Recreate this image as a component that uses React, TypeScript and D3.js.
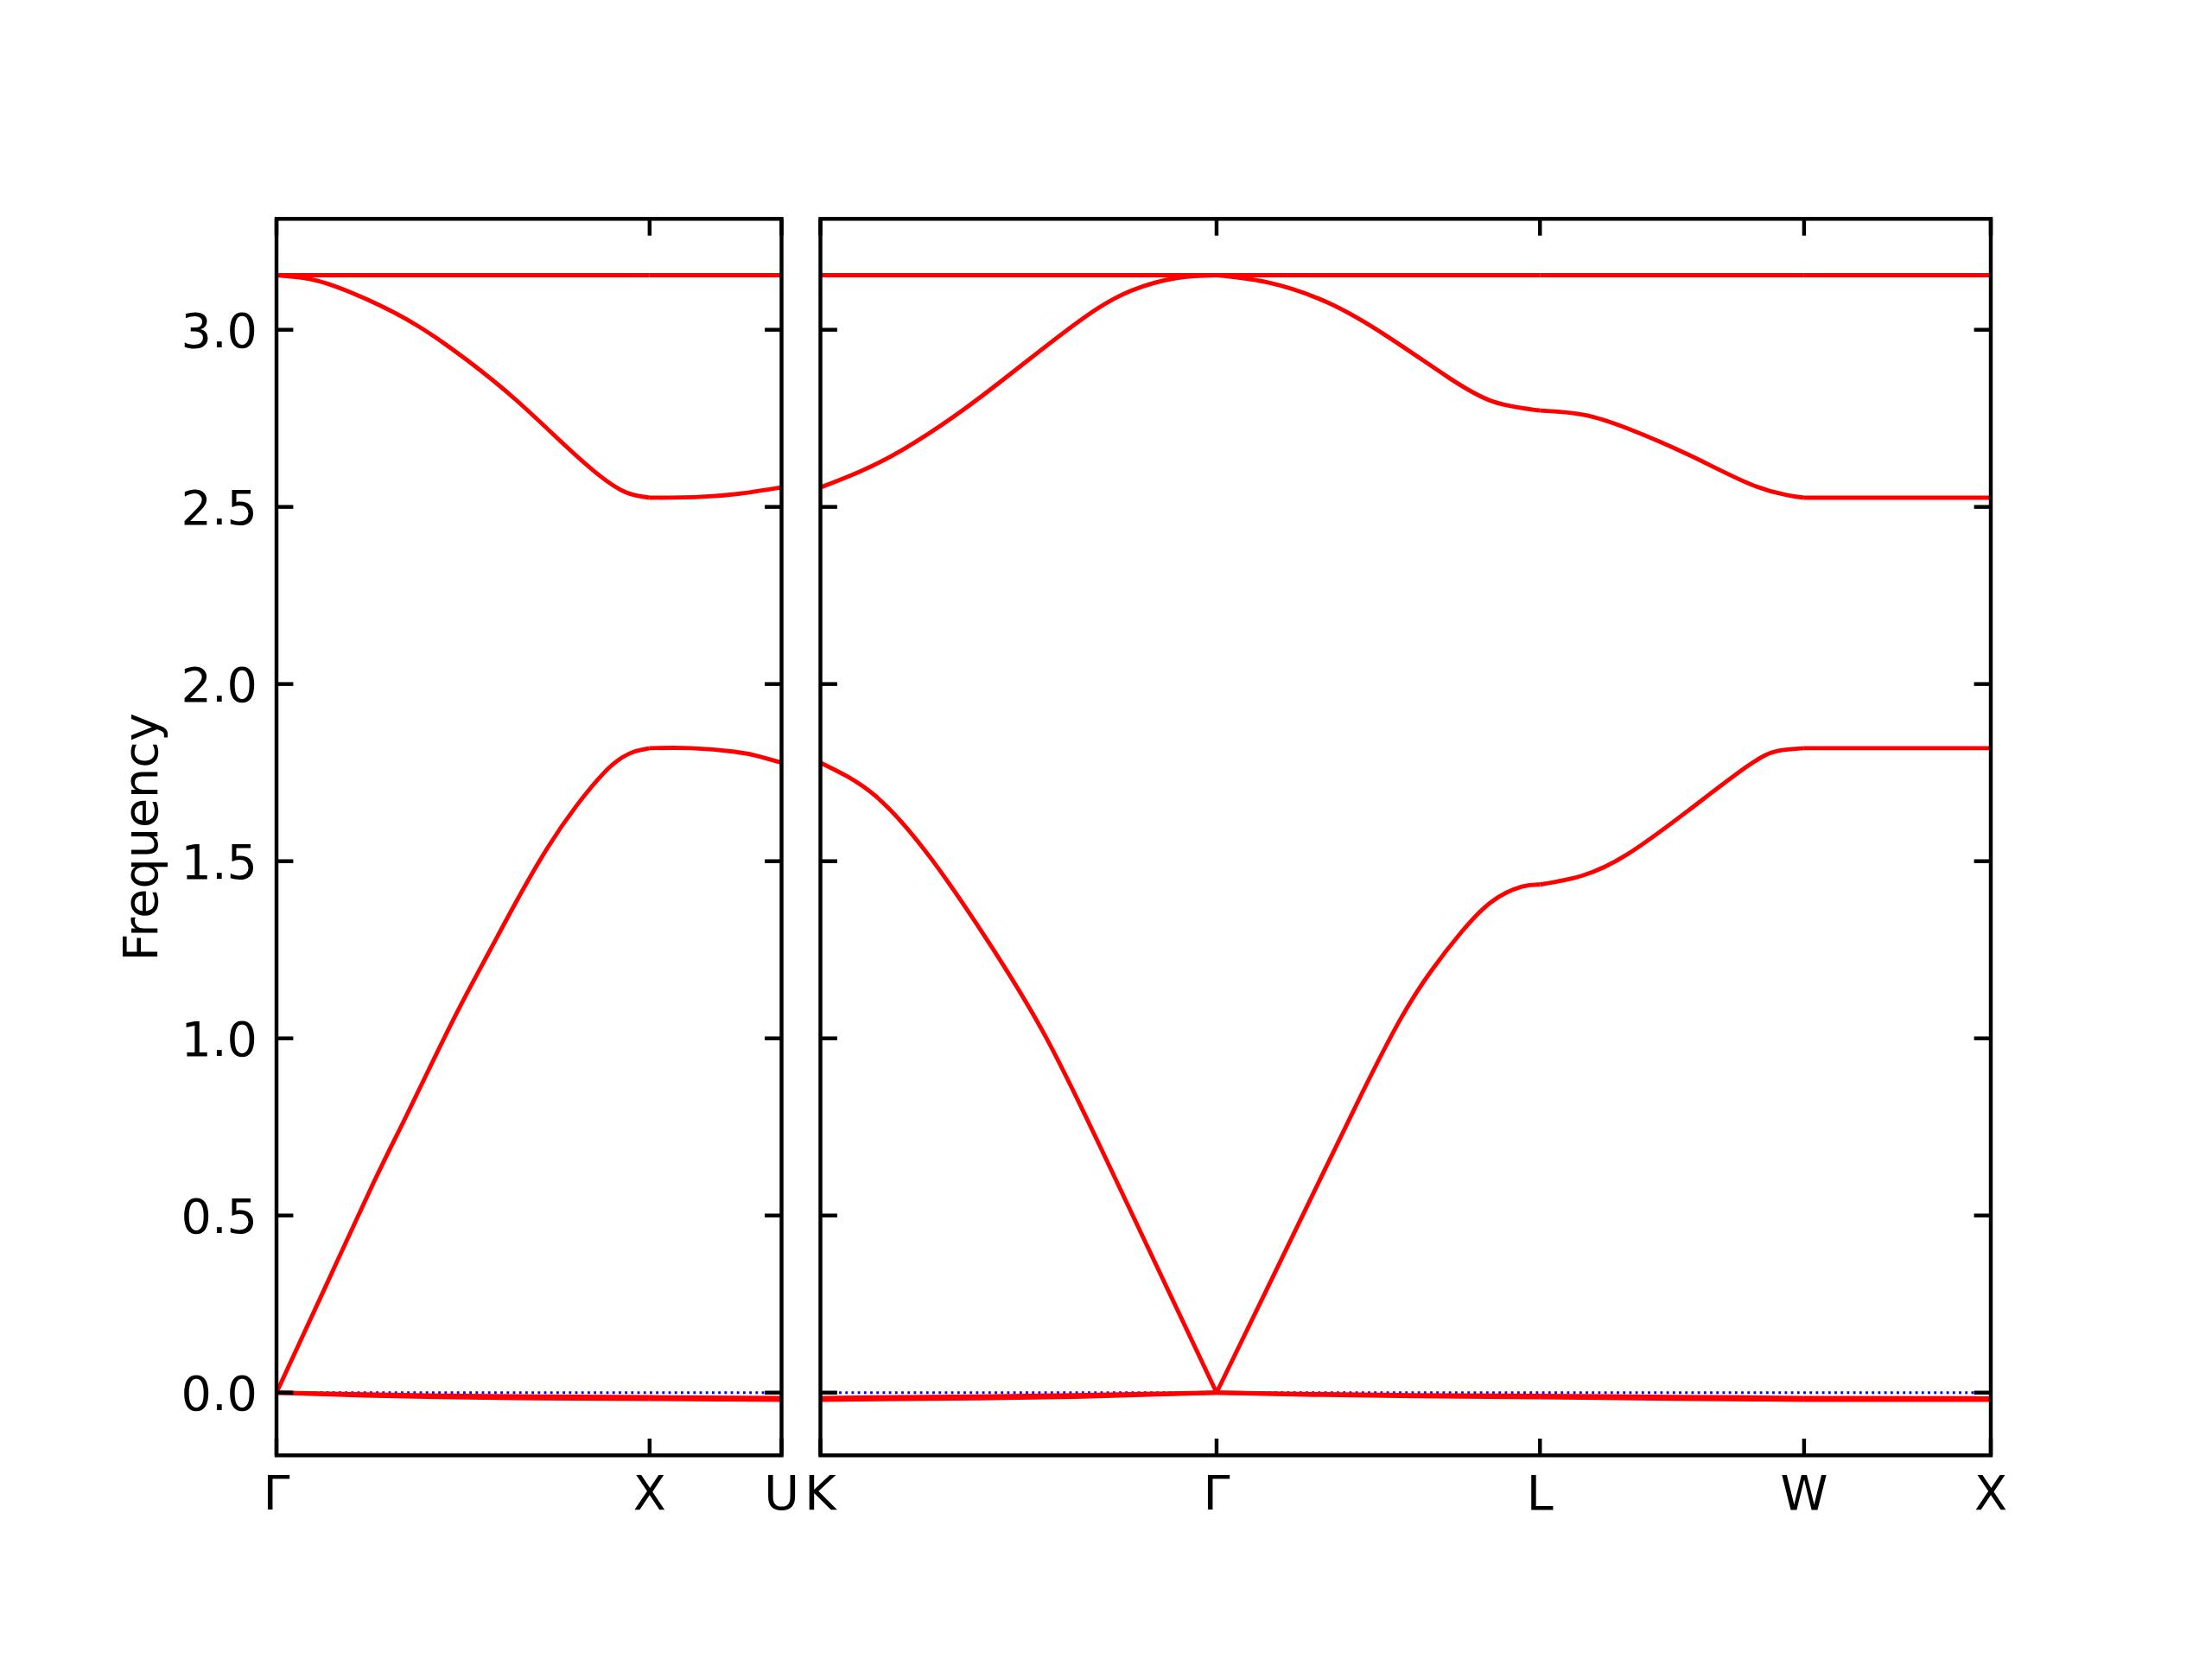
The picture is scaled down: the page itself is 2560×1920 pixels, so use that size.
import React from "react";
import * as d3 from "d3";

// ---------- data ----------
const leftLabels = ["Γ", "X", "U"];
const leftSegLengths = [1.0, 0.3536];
const rightLabels = ["K", "Γ", "L", "W", "X"];
const rightSegLengths = [1.0607, 0.866, 0.7071, 0.5];
const yTicks = [0.0, 0.5, 1.0, 1.5, 2.0, 2.5, 3.0];
const yLabel = "Frequency";

// acoustic band: [fraction along segment, frequency]
const acousticGX = [[0, 0], [0.13, 0.296], [0.259, 0.59], [0.34, 0.764], [0.417, 0.931], [0.494, 1.094], [0.572, 1.248], [0.649, 1.398], [0.726, 1.537], [0.803, 1.655], [0.88, 1.752], [0.927, 1.793], [0.958, 1.809], [1, 1.819]];
const acousticXU = [[0, 1.819], [0.317, 1.819], [0.644, 1.809], [0.816, 1.797], [1, 1.778]];
const acousticKG = [[0, 1.778], [0.139, 1.684], [0.281, 1.505], [0.423, 1.274], [0.566, 1.01], [0.708, 0.69], [0.854, 0.345], [1, 0]];
const acousticGL = [[0, 0], [0.137, 0.257], [0.292, 0.549], [0.447, 0.84], [0.571, 1.058], [0.665, 1.192], [0.758, 1.301], [0.851, 1.386], [0.944, 1.428], [1, 1.434]];
const acousticLW = [[0, 1.434], [0.159, 1.459], [0.33, 1.519], [0.558, 1.641], [0.785, 1.768], [0.899, 1.811], [1, 1.819]];
const acousticWX = [[0, 1.819], [1, 1.819]];

// optical band
const opticalGX = [[0, 3.154], [0.111, 3.138], [0.244, 3.085], [0.377, 3.012], [0.51, 2.915], [0.643, 2.801], [0.776, 2.671], [0.865, 2.589], [0.936, 2.541], [1, 2.526]];
const opticalXU = [[0, 2.526], [0.373, 2.528], [0.675, 2.537], [1, 2.555]];
const opticalKG = [[0, 2.555], [0.096, 2.598], [0.21, 2.663], [0.363, 2.776], [0.516, 2.907], [0.669, 3.037], [0.784, 3.11], [0.899, 3.146], [1, 3.154]];
const opticalGL = [[0, 3.154], [0.156, 3.134], [0.343, 3.077], [0.53, 2.98], [0.716, 2.866], [0.856, 2.797], [1, 2.772]];
const opticalLW = [[0, 2.772], [0.166, 2.76], [0.337, 2.72], [0.566, 2.646], [0.794, 2.565], [0.937, 2.533], [1, 2.526]];
const opticalWX = [[0, 2.526], [1, 2.526]];

// flat band
const flatSeg = [[0, 3.154], [1, 3.154]];

// near-zero bands
const zeroAGX = [[0, 0], [0.2, -0.007], [0.4, -0.012], [0.7, -0.016], [1, -0.018]];
const zeroAXU = [[0, -0.018], [1, -0.02]];
const zeroAKG = [[0, -0.02], [0.4, -0.016], [0.7, -0.01], [1, 0]];
const zeroAGL = [[0, 0], [0.3, -0.006], [0.61, -0.01], [1, -0.013]];
const zeroALW = [[0, -0.013], [0.5, -0.017], [1, -0.02]];
const zeroAWX = [[0, -0.02], [1, -0.0205]];

const zeroBGX = [[0, 0], [0.2, -0.004], [0.4, -0.008], [0.7, -0.011], [1, -0.013]];
const zeroBXU = [[0, -0.013], [1, -0.015]];
const zeroBKG = [[0, -0.015], [0.4, -0.011], [0.7, -0.006], [1, 0]];
const zeroBGL = [[0, 0], [0.3, -0.004], [0.61, -0.007], [1, -0.009]];
const zeroBLW = [[0, -0.009], [0.5, -0.012], [1, -0.015]];
const zeroBWX = [[0, -0.015], [1, -0.016]];

const leftBands = [
  [zeroAGX, zeroAXU],
  [zeroBGX, zeroBXU],
  [acousticGX, acousticXU],
  [opticalGX, opticalXU],
  [flatSeg, flatSeg],
];
const rightBands = [
  [zeroAKG, zeroAGL, zeroALW, zeroAWX],
  [zeroBKG, zeroBGL, zeroBLW, zeroBWX],
  [acousticKG, acousticGL, acousticLW, acousticWX],
  [opticalKG, opticalGL, opticalLW, opticalWX],
  [flatSeg, flatSeg, flatSeg, flatSeg],
];

// ---------- layout ----------
const W = 2560;
const H = 1920;
const TOP = 253.3;
const BOTTOM = 1684.3;
const Y_DOMAIN = [-0.177, 3.313];
const LEFT_X = [320, 904.5];
const RIGHT_X = [949.5, 2304];
const FONT = "'DejaVu Sans', sans-serif";
const FS = 55.6;
const LW = 4.44;
const RED_W = 4.9;
const TICK = 19.4;

function Panel({ labels, lengths, bands, range, showYLabels }: any) {
  const total = d3.sum(lengths);
  const offsets = [0];
  lengths.forEach((l: number, i: number) => offsets.push(offsets[i] + l));
  const x = d3.scaleLinear().domain([0, total]).range(range);
  const y = d3.scaleLinear().domain(Y_DOMAIN).range([BOTTOM, TOP]);
  const line = d3
    .line<number[]>()
    .x((d) => d[0])
    .y((d) => d[1])
    .curve(d3.curveNatural);
  const [x0, x1] = range;
  return (
    <g>
      {/* zero line */}
      <line x1={x0} x2={x1} y1={y(0)} y2={y(0)} stroke="#0000ff" strokeWidth={2.8} strokeDasharray="2.8 4.4" />
      {bands.map((band: any, bi: number) =>
        band.map((seg: number[][], si: number) => {
          const pts = seg.map((p) => [x(offsets[si] + p[0] * lengths[si]), y(p[1])]);
          return <path key={`${bi}-${si}`} d={line(pts) || ""} fill="none" stroke="#ff0000" strokeWidth={RED_W} strokeLinejoin="round" />;
        })
      )}
      {/* y ticks */}
      {yTicks.map((t) => (
        <g key={"yt" + t}>
          <line x1={x0} x2={x0 + TICK} y1={y(t)} y2={y(t)} stroke="#000" strokeWidth={LW} />
          <line x1={x1} x2={x1 - TICK} y1={y(t)} y2={y(t)} stroke="#000" strokeWidth={LW} />
          {showYLabels && (
            <text x={x0 - 22} y={y(t) + 20.5} textAnchor="end" fontFamily={FONT} fontSize={FS} fill="#000">
              {t.toFixed(1)}
            </text>
          )}
        </g>
      ))}
      {/* x ticks */}
      {offsets.map((o: number, i: number) => (
        <g key={"xt" + i}>
          <line x1={x(o)} x2={x(o)} y1={BOTTOM} y2={BOTTOM - TICK} stroke="#000" strokeWidth={LW} />
          <line x1={x(o)} x2={x(o)} y1={TOP} y2={TOP + TICK} stroke="#000" strokeWidth={LW} />
          <text x={x(o)} y={1747} textAnchor="middle" fontFamily={FONT} fontSize={FS} fill="#000">
            {labels[i]}
          </text>
        </g>
      ))}
      <rect x={x0} y={TOP} width={x1 - x0} height={BOTTOM - TOP} fill="none" stroke="#000" strokeWidth={LW} strokeLinejoin="miter" />
    </g>
  );
}

export default function App() {
  return (
    <svg width={W} height={H} style={{ position: "absolute", left: 0, top: 0, background: "#fff" }}>
      <rect x={0} y={0} width={W} height={H} fill="#fff" />
      <Panel labels={leftLabels} lengths={leftSegLengths} bands={leftBands} range={LEFT_X} showYLabels={true} />
      <Panel labels={rightLabels} lengths={rightSegLengths} bands={rightBands} range={RIGHT_X} showYLabels={false} />
      <text
        transform={`translate(182, ${(TOP + BOTTOM) / 2}) rotate(-90)`}
        textAnchor="middle"
        fontFamily={FONT}
        fontSize={FS}
        fill="#000"
      >
        {yLabel}
      </text>
    </svg>
  );
}
